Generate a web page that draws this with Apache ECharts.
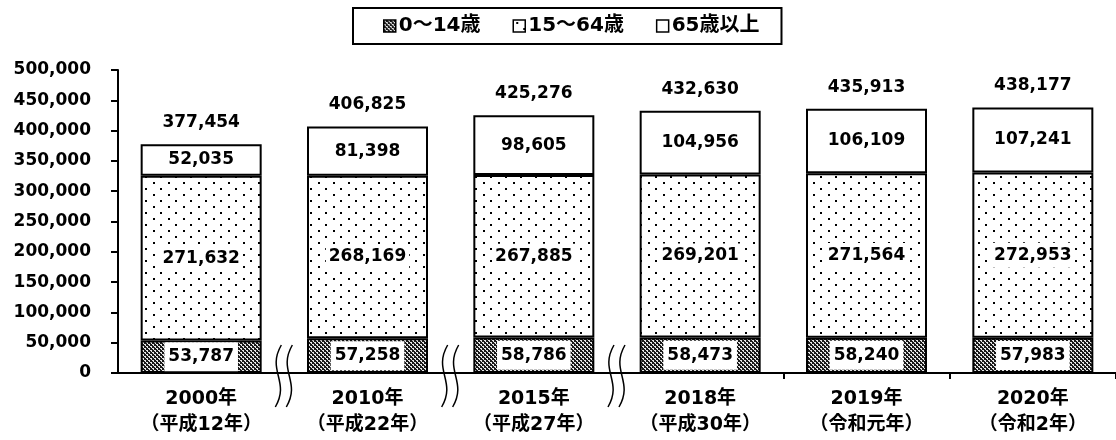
<!DOCTYPE html>
<html>
<head>
<meta charset="utf-8">
<script src="https://cdn.jsdelivr.net/npm/echarts@6/dist/echarts.min.js"></script>
<style>
html, body { margin: 0; padding: 0; background: #fff; }
#main { width: 1116px; height: 440px; }
</style>
</head>
<body>
<div id="main"></div>
<script>
// data
var categories = ['2000年\n（平成12年）', '2010年\n（平成22年）', '2015年\n（平成27年）',
    '2018年\n（平成30年）', '2019年\n（令和元年）', '2020年\n（令和2年）'];
var seriesNames = ['0〜14歳', '15〜64歳', '65歳以上'];
var age0to14 = [53787, 57258, 58786, 58473, 58240, 57983];
var age15to64 = [271632, 268169, 267885, 269201, 271564, 272953];
var age65plus = [52035, 81398, 98605, 104956, 106109, 107241];
var totals = [377454, 406825, 425276, 432630, 435913, 438177];
var breakAfter = [0, 1, 2]; // wavy break marks between these categories and the next

var FONT = '"DejaVu Sans", "Noto Sans CJK JP", sans-serif';

// patterns
function makeCross() {
    var c = document.createElement('canvas');
    c.width = 4; c.height = 4;
    var g = c.getContext('2d');
    g.fillStyle = '#1a1a1a';
    g.fillRect(0, 0, 4, 4);
    g.fillStyle = '#e8e8e8';
    g.fillRect(0, 0, 2, 1);
    g.fillRect(2, 2, 2, 1);
    g.fillRect(1, 1, 1, 1);
    g.fillRect(3, 3, 1, 1);
    return c;
}
function makeDots() {
    var c = document.createElement('canvas');
    c.width = 15; c.height = 12;
    var g = c.getContext('2d');
    g.fillStyle = '#fff';
    g.fillRect(0, 0, 15, 12);
    g.fillStyle = '#000';
    g.fillRect(3, 2, 2, 2);
    g.fillRect(10, 8, 2, 2);
    return c;
}

var chart = echarts.init(document.getElementById('main'));
var commas = function (p) { return echarts.format.addCommas(p.value); };
var border = { borderColor: '#000', borderWidth: 2 };

var option = {
    animation: false,
    textStyle: { fontFamily: FONT },
    legend: {
        data: seriesNames,
        top: 8,
        left: 353,
        icon: 'rect',
        borderColor: '#000',
        borderWidth: 2,
        padding: [8, 22, 8, 30],
        itemGap: 32,
        itemWidth: 12,
        itemHeight: 12,
        itemStyle: { borderWidth: 1.5, borderColor: '#000' },
        textStyle: { fontFamily: FONT, fontWeight: 'bold', fontSize: 20, color: '#000', padding: [0, 0, 0, -2] }
    },
    grid: { left: 118, right: -4, top: 70, bottom: 67 },
    xAxis: {
        type: 'category',
        data: categories,
        axisLine: { lineStyle: { color: '#000', width: 2 } },
        axisTick: {
            show: true,
            length: 6,
            lineStyle: { color: '#000', width: 2 },
            interval: function (i) { return i === 4 || i === 5; }
        },
        axisLabel: {
            margin: 13,
            color: '#000',
            fontFamily: FONT,
            fontWeight: 'bold',
            fontSize: 19,
            lineHeight: 26
        }
    },
    yAxis: {
        type: 'value',
        min: 0,
        max: 500000,
        interval: 50000,
        splitLine: { show: false },
        axisLine: { show: true, lineStyle: { color: '#000', width: 2 } },
        axisTick: { show: true, length: 7, lineStyle: { color: '#000', width: 2 } },
        axisLabel: {
            margin: 27,
            color: '#000',
            fontFamily: FONT,
            fontWeight: 'bold',
            fontSize: 17,
            formatter: function (v) { return echarts.format.addCommas(v); }
        }
    },
    series: [
        {
            name: seriesNames[0], type: 'bar', stack: 'pop', barWidth: 121,
            data: age0to14,
            itemStyle: Object.assign({ color: { image: makeCross(), repeat: 'repeat' } }, border),
            label: {
                show: true, position: 'inside', formatter: commas,
                color: '#000', fontFamily: FONT, fontWeight: 'bold', fontSize: 17,
                backgroundColor: '#fff', padding: [6, 4], lineHeight: 17
            }
        },
        {
            name: seriesNames[1], type: 'bar', stack: 'pop', barWidth: 121,
            data: age15to64,
            itemStyle: Object.assign({ color: { image: makeDots(), repeat: 'repeat' } }, border),
            label: {
                show: true, position: 'inside', formatter: commas,
                color: '#000', fontFamily: FONT, fontWeight: 'bold', fontSize: 17,
                backgroundColor: '#fff', padding: [4, 3], lineHeight: 17
            }
        },
        {
            name: seriesNames[2], type: 'bar', stack: 'pop', barWidth: 121,
            data: age65plus,
            itemStyle: Object.assign({ color: '#fff' }, border),
            label: {
                show: true, position: 'inside', formatter: commas,
                color: '#000', fontFamily: FONT, fontWeight: 'bold', fontSize: 17
            }
        },
        {
            name: 'total', type: 'scatter', data: totals, symbolSize: 0,
            itemStyle: { opacity: 1 },
            label: {
                show: true, position: 'top', distance: 13, formatter: commas,
                color: '#000', fontFamily: FONT, fontWeight: 'bold', fontSize: 17
            },
            z: 5
        }
    ]
};
chart.setOption(option);

// wavy break marks on the x axis
var y0 = chart.convertToPixel({ yAxisIndex: 0 }, 0);
var marks = [];
breakAfter.forEach(function (i) {
    var xa = chart.convertToPixel({ xAxisIndex: 0 }, i);
    var xb = chart.convertToPixel({ xAxisIndex: 0 }, i + 1);
    var x = (xa + xb) / 2;
    [-6, 5].forEach(function (dx) {
        var cx = x + dx;
        marks.push({
            type: 'bezierCurve',
            shape: {
                x1: cx + 3, y1: y0 - 28,
                x2: cx - 3, y2: y0 + 34,
                cpx1: cx - 12, cpy1: y0 - 2,
                cpx2: cx + 12, cpy2: y0 + 8
            },
            style: { stroke: '#000', lineWidth: 1.5, fill: null },
            z: 10
        });
    });
});
chart.setOption({ graphic: marks });
</script>
</body>
</html>
